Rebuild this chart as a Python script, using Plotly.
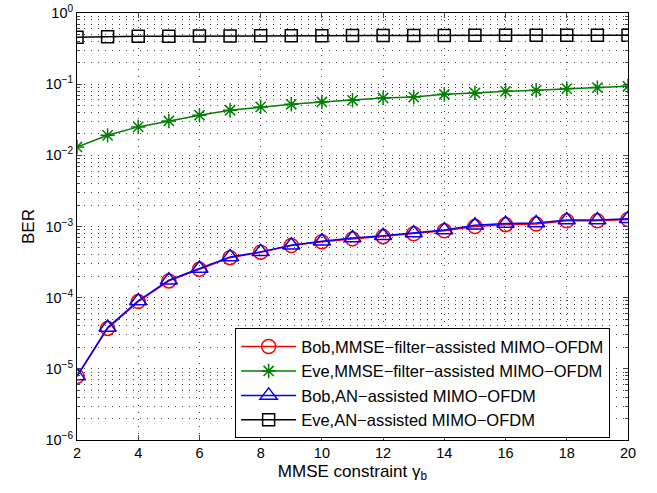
import plotly.graph_objects as go

gamma_b = list(range(2, 21))
bob_mmse = [7.8e-6, 3.7e-5, 8.8e-5, 1.72e-4, 2.5e-4, 3.65e-4, 4.35e-4, 5.4e-4, 6.1e-4, 6.7e-4,
            7.2e-4, 7.9e-4, 8.7e-4, 1.0e-3, 1.06e-3, 1.08e-3, 1.2e-3, 1.2e-3, 1.25e-3]
eve_mmse = [0.0131, 0.0191, 0.0251, 0.0304, 0.0366, 0.043, 0.0479, 0.0522, 0.0562, 0.0594,
            0.064, 0.066, 0.0721, 0.0752, 0.0795, 0.082, 0.0867, 0.0895, 0.0934]
bob_an = [7.9e-6, 3.8e-5, 9.0e-5, 1.76e-4, 2.57e-4, 3.74e-4, 4.4e-4, 5.46e-4, 6.2e-4, 6.9e-4,
          7.4e-4, 8.1e-4, 8.9e-4, 1.04e-3, 1.1e-3, 1.12e-3, 1.23e-3, 1.23e-3, 1.29e-3]
eve_an = [0.455, 0.465, 0.47, 0.472, 0.475, 0.477, 0.478, 0.479, 0.48, 0.481,
          0.482, 0.483, 0.484, 0.485, 0.485, 0.486, 0.487, 0.487, 0.488]

x_ticks = list(range(2, 21, 2))
y_ticks = [1e-6, 1e-5, 1e-4, 1e-3, 1e-2, 1e-1, 1e0]
y_tick_text = ["10<sup>−6</sup>", "10<sup>−5</sup>", "10<sup>−4</sup>", "10<sup>−3</sup>",
               "10<sup>−2</sup>", "10<sup>−1</sup>", "10<sup>0</sup>"]
y_minor = [m * 10.0 ** e for e in range(-6, 0) for m in range(2, 10)]

fig = go.Figure()
fig.add_trace(go.Scatter(x=gamma_b, y=bob_mmse, mode="lines+markers",
                         name="Bob,MMSE−filter−assisted MIMO−OFDM",
                         line=dict(color="red", width=1.5),
                         marker=dict(symbol="circle-open", size=14, color="red", line=dict(width=1.5))))
fig.add_trace(go.Scatter(x=gamma_b, y=eve_mmse, mode="lines+markers",
                         name="Eve,MMSE−filter−assisted MIMO−OFDM",
                         line=dict(color="#007f00", width=1.5),
                         marker=dict(symbol="asterisk-open", size=12, color="#007f00", line=dict(width=1.5))))
fig.add_trace(go.Scatter(x=gamma_b, y=bob_an, mode="lines+markers",
                         name="Bob,AN−assisted MIMO−OFDM",
                         line=dict(color="blue", width=1.5),
                         marker=dict(symbol="triangle-up-open", size=15, color="blue", line=dict(width=1.5))))
fig.add_trace(go.Scatter(x=gamma_b, y=eve_an, mode="lines+markers",
                         name="Eve,AN−assisted MIMO−OFDM",
                         line=dict(color="black", width=1.5),
                         marker=dict(symbol="square-open", size=12, color="black", line=dict(width=1.5))))

ff = "Liberation Sans, Arial, Helvetica"
grid = dict(showgrid=True, gridcolor="#444", griddash="1px,6px", gridwidth=1)
fig.update_layout(
    width=657, height=493,
    margin=dict(l=77, r=29, t=13, b=53, autoexpand=False),
    paper_bgcolor="white", plot_bgcolor="white",
    font=dict(family=ff, size=14, color="black"),
    showlegend=True,
    legend=dict(x=0.287, y=0.004, xanchor="left", yanchor="bottom",
                bordercolor="black", borderwidth=1, bgcolor="white",
                font=dict(family=ff, size=16.5),
                tracegroupgap=0, itemwidth=55),
    xaxis=dict(range=[2, 20], tickvals=x_ticks, ticks="inside", ticklen=5,
               showline=True, linecolor="black", linewidth=1, mirror="ticks",
               zeroline=False, automargin=False, ticklabeloverflow="allow",
               title=dict(text="MMSE constraint γ<sub>b</sub>", standoff=4),
               tickfont=dict(size=14.5), **grid),
    yaxis=dict(type="log", range=[-6, 0], tickvals=y_ticks, ticktext=y_tick_text,
               ticks="inside", ticklen=5,
               showline=True, linecolor="black", linewidth=1, mirror="ticks",
               zeroline=False, automargin=False, ticklabeloverflow="allow",
               minor=dict(tickvals=y_minor, ticks="inside", ticklen=3, showgrid=True,
                          gridcolor="#444", griddash="1px,6px", gridwidth=1),
               title=dict(text="BER", standoff=6),
               tickfont=dict(size=14.5), **grid),
)
fig.write_html("out.html", config={"displayModeBar": False},
               post_script="document.body.style.margin='0';document.body.style.overflow='hidden';")
